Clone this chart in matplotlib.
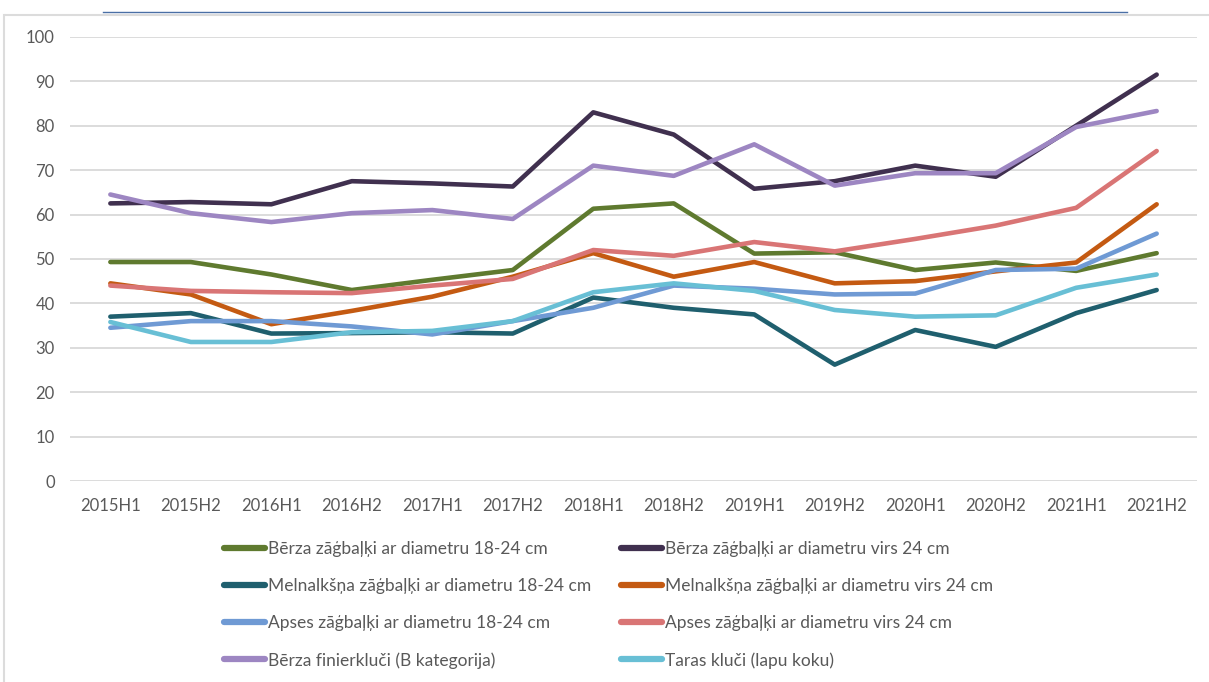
import numpy as np
import matplotlib.pyplot as plt
from matplotlib.lines import Line2D

plt.rcParams['font.family'] = ['Lato', 'DejaVu Sans']

periods = ['2015H1', '2015H2', '2016H1', '2016H2', '2017H1', '2017H2', '2018H1',
           '2018H2', '2019H1', '2019H2', '2020H1', '2020H2', '2021H1', '2021H2']

berza_18 = [49.3, 49.3, 46.5, 43.0, 45.3, 47.5, 61.3, 62.5, 51.2, 51.5, 47.5, 49.2, 47.3, 51.3]
berza_24 = [62.5, 62.8, 62.3, 67.5, 67.0, 66.3, 83.0, 78.0, 65.8, 67.5, 71.0, 68.5, 80.0, 91.5]
meln_18 = [37.0, 37.8, 33.2, 33.3, 33.5, 33.2, 41.3, 39.0, 37.5, 26.2, 34.0, 30.2, 37.8, 43.0]
meln_24 = [44.5, 42.0, 35.3, 38.3, 41.5, 46.0, 51.3, 46.0, 49.3, 44.5, 45.0, 47.2, 49.2, 62.3]
apses_18 = [34.5, 36.0, 36.0, 34.8, 33.0, 36.0, 39.0, 44.0, 43.3, 42.0, 42.2, 47.5, 47.8, 55.7]
apses_24 = [44.0, 42.8, 42.5, 42.3, 44.0, 45.5, 52.0, 50.7, 53.8, 51.7, 54.5, 57.5, 61.5, 74.3]
finier = [64.5, 60.3, 58.3, 60.3, 61.0, 59.0, 71.0, 68.7, 75.8, 66.5, 69.3, 69.3, 79.7, 83.3]
taras = [35.8, 31.3, 31.3, 33.5, 33.8, 36.0, 42.5, 44.5, 42.8, 38.5, 37.0, 37.3, 43.5, 46.5]

series = [
    ('Bērza zāģbaļķi ar diametru 18-24 cm', berza_18, '#5f7a2f'),
    ('Bērza zāģbaļķi ar diametru virs 24 cm', berza_24, '#40304f'),
    ('Melnalkšņa zāģbaļķi ar diametru 18-24 cm', meln_18, '#1f5f6e'),
    ('Melnalkšņa zāģbaļķi ar diametru virs 24 cm', meln_24, '#c45a12'),
    ('Apses zāģbaļķi ar diametru 18-24 cm', apses_18, '#6f9ad4'),
    ('Apses zāģbaļķi ar diametru virs 24 cm', apses_24, '#d97575'),
    ('Bērza finierkluči (B kategorija)', finier, '#9d86c2'),
    ('Taras kluči (lapu koku)', taras, '#68bfd5'),
]

fig = plt.figure(figsize=(12.09, 6.82), dpi=100)
ax = fig.add_axes([0.058, 0.2947, 0.932, 0.6513])

x = np.arange(len(periods))
handles = []
for name, vals, col in series:
    h, = ax.plot(x, vals, color=col, lw=3.3, solid_capstyle='round', label=name)
    handles.append(h)

ax.set_xlim(-0.5, len(periods) - 0.5)
ax.set_ylim(0, 100)
ax.set_yticks(np.arange(0, 101, 10))
ax.set_xticks(x)
ax.set_xticklabels(periods)
ax.grid(axis='y', color='#d9d9d9', lw=1.3)
ax.set_axisbelow(True)
for s in ax.spines.values():
    s.set_visible(False)
ax.tick_params(length=0, colors='#595959', labelsize=12)
ax.tick_params(axis='y', pad=11)
ax.tick_params(axis='x', pad=12)

# row-major order for legend with 2 columns
order = [0, 2, 4, 6, 1, 3, 5, 7]
leg = fig.legend([handles[i] for i in order], [series[i][0] for i in order],
                 ncol=2, loc='upper left', bbox_to_anchor=(0.172, 0.229),
                 frameon=False, fontsize=12.5, handlelength=2.4, handletextpad=0.15,
                 columnspacing=1.7, labelspacing=1.2, labelcolor='#595959')
for lh in leg.get_lines():
    lh.set_linewidth(4.5)

# frame lines from the screenshot
fig.add_artist(Line2D([103 / 1209, 1127 / 1209], [1 - 12 / 682] * 2, color='#4a6fa5', lw=1))
fig.add_artist(Line2D([6 / 1209, 1], [1 - 15 / 682] * 2, color='#dcdcdc', lw=1.5))
fig.add_artist(Line2D([4 / 1209] * 2, [0, 1 - 15 / 682], color='#dcdcdc', lw=1.5))

fig.savefig('out.png', dpi=100)
